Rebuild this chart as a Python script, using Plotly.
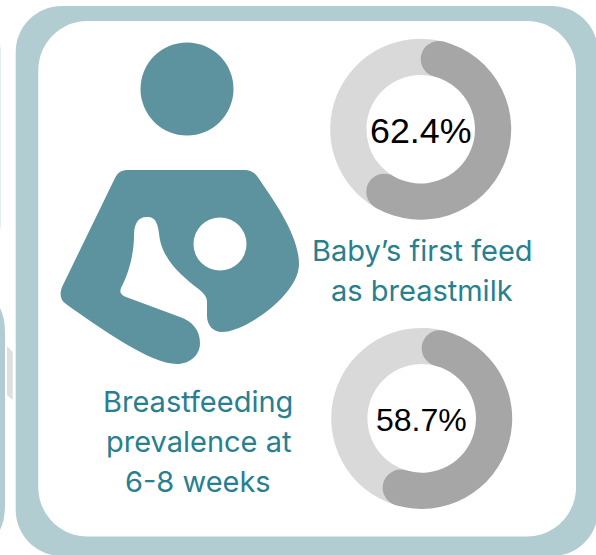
import math
import plotly.graph_objects as go

W, H = 596, 555

# Data
donut_labels = ["Baby's first feed as breastmilk", "Breastfeeding prevalence at 6-8 weeks"]
donut_values = [62.4, 58.7]
donut_texts = ["62.4%", "58.7%"]
caption_first = ["Baby’s first feed", "as breastmilk"]
caption_second = ["Breastfeeding", "prevalence at", "6-8 weeks"]

# Style
FRAME = "#b2cdd1"
ICON = "#5c939f"
TEXT = "#27808f"
DARK = "#a6a6a6"
LIGHT = "#d9d9d9"
CENTERS = [(420.7, 129.2), (421.7, 418.4)]
R_OUT = 90.5
HOLE = 0.6
NUM_SIZES = [35.8, 32]
NUM_Y = [131, 420]

R_IN = R_OUT * HOLE
R_MID = (R_OUT + R_IN) / 2
R_CAP = (R_OUT - R_IN) / 2
CAP_DEG = math.degrees(math.asin(R_CAP / R_MID))
CAP_PCT = CAP_DEG / 3.6


def rrect(x0, y0, x1, y1, r):
    k = r * 0.45
    return (
        f"M{x0 + r},{y0} L{x1 - r},{y0} C{x1 - k},{y0} {x1},{y0 + k} {x1},{y0 + r} "
        f"L{x1},{y1 - r} C{x1},{y1 - k} {x1 - k},{y1} {x1 - r},{y1} "
        f"L{x0 + r},{y1} C{x0 + k},{y1} {x0},{y1 - k} {x0},{y1 - r} "
        f"L{x0},{y0 + r} C{x0},{y0 + k} {x0 + k},{y0} {x0 + r},{y0} Z"
    )


BODY = (
    "M128,170 L244,170 C250,170 254,172 257,176 C275,202 299,236 299,264 "
    "C299,295 245,332 222,332 C213,332 207,325 207,316 L207,302 C207,297 204,294 201,291 "
    "C190,282 165,265 160,240 C158,225 157,217 147,217 C137,217 134,225 134,236 "
    "C134,255 128,275 121,288 C119,293 122,295 126,297 L180,317 C192,321 200,330 200,343 "
    "C200,355 190,364 177,364 C150,364 100,328 66,304 C60,300 59,293 63,285 "
    "L115,178 C118,172 122,170 128,170 Z"
)


def circle(cx, cy, r, color, layer="below"):
    return dict(type="circle", xref="x", yref="y", x0=cx - r, x1=cx + r, y0=cy - r, y1=cy + r,
                fillcolor=color, line_width=0, layer=layer)


def path(d, color, layer="below"):
    return dict(type="path", xref="x", yref="y", path=d, fillcolor=color, line_width=0, layer=layer)


shapes = [
    path("M0,308 Q5,318 5,332 L5,505 Q5,520 0,530 Z", FRAME),
    path("M7,346 L12.7,352 L12.7,400 L7,395 Z", "#dfdfdf"),
    path("M0,42 L1,50 L1,225 L0,232 Z", "#e3eeef"),
    path(rrect(15.7, 6, 598, 556, 46), FRAME),
    path(rrect(38.3, 21, 576, 536.5, 49), "#ffffff"),
    circle(187, 89, 46.5, ICON),
    path(BODY, ICON),
    circle(220, 244, 26.5, "#ffffff"),
]

fig = go.Figure()

for (cx, cy), val, lab in zip(CENTERS, donut_values, donut_labels):
    fig.add_trace(go.Pie(
        values=[val - 2 * CAP_PCT, 100 - val + 2 * CAP_PCT],
        labels=[lab, "Other"],
        sort=False, direction="clockwise", rotation=CAP_DEG, hole=HOLE,
        marker=dict(colors=[DARK, LIGHT], line=dict(width=0)),
        textinfo="none", hoverinfo="skip", showlegend=False,
        domain=dict(x=[(cx - R_OUT) / W, (cx + R_OUT) / W],
                    y=[1 - (cy + R_OUT) / H, 1 - (cy - R_OUT) / H]),
    ))
    for deg in (CAP_DEG, val * 3.6 - CAP_DEG):
        a = math.radians(deg)
        shapes.append(circle(cx + R_MID * math.sin(a), cy - R_MID * math.cos(a), R_CAP, DARK, "above"))

# Invisible trace so the cartesian axes exist for shapes and annotations
fig.add_trace(go.Scatter(x=[0], y=[0], mode="markers", marker=dict(opacity=0), hoverinfo="skip", showlegend=False))

annotations = []
for (cx, _), t, s, y in zip(CENTERS, donut_texts, NUM_SIZES, NUM_Y):
    annotations.append(dict(x=cx, y=y, text=t, showarrow=False, xanchor="center", yanchor="middle",
                            font=dict(family="Liberation Sans", size=s, color="#000000")))
for lines, x, ys in ((caption_first, 422, [250, 290]), (caption_second, 198, [401, 441, 481])):
    for t, y in zip(lines, ys):
        annotations.append(dict(x=x, y=y, text=t, showarrow=False, xanchor="center", yanchor="middle",
                                font=dict(family="Inter", size=29, color=TEXT)))

fig.update_layout(
    width=W, height=H, margin=dict(l=0, r=0, t=0, b=0), autosize=False,
    paper_bgcolor="#ffffff", plot_bgcolor="rgba(0,0,0,0)", showlegend=False,
    xaxis=dict(range=[0, W], visible=False, fixedrange=True),
    yaxis=dict(range=[H, 0], visible=False, fixedrange=True),
    shapes=shapes, annotations=annotations,
)
fig.write_html("out.html", config=dict(displayModeBar=False),
               post_script="document.body.style.margin='0';document.documentElement.style.overflow='hidden';")
